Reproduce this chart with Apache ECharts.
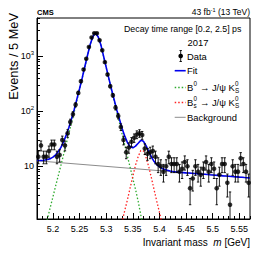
<!DOCTYPE html>
<html><head><meta charset="utf-8">
<script src="https://cdn.jsdelivr.net/npm/echarts@6/dist/echarts.min.js"></script>
<style>html,body{margin:0;padding:0;background:#fff}#c{width:266px;height:255px}</style>
</head><body><div id="c"></div>
<script>
// ---- data ----
const binCenters = [5.1725,5.1775,5.1825,5.1875,5.1925,5.1975,5.2025,5.2075,5.2125,5.2175,
 5.2225,5.2275,5.2325,5.2375,5.2425,5.2475,5.2525,5.2575,5.2625,5.2675,
 5.2725,5.2775,5.2825,5.2875,5.2925,5.2975,5.3025,5.3075,5.3125,5.3175,
 5.3225,5.3275,5.3325,5.3375,5.3425,5.3475,5.3525,5.3575,5.3625,5.3675,
 5.3725,5.3775,5.3825,5.3875,5.3925,5.3975,5.4025,5.4075,5.4125,5.4175,
 5.4225,5.4275,5.4325,5.4375,5.4425,5.4475,5.4525,5.4575,5.4625,5.4675,
 5.4725,5.4775,5.4825,5.4875,5.4925,5.4975,5.5025,5.5075,5.5125,5.5175,
 5.5225,5.5275,5.5325,5.5375,5.5425,5.5475,5.5525,5.5575,5.5625,5.5675];
const dataCounts = [15,24,15,15,19,25,25,15,16,30,
 24,40,64,89,132,217,353,578,905,1480,
 2200,2630,2630,1960,1290,787,468,286,196,117,
 82,52,30,18,22,28,33,38,40,37,
 21,17,18,19,15,11,10,8,10,15,
 11,11,11,8,9,12,10,4,6,10,
 8,7,9,12,8,11,9,4,7,11,
 11,5,2,10,8,8,14,11,8,5];
const fitMass = [5.17,5.175,5.18,5.185,5.19,5.195,5.2,5.205,5.21,5.215,
 5.22,5.225,5.23,5.235,5.24,5.245,5.25,5.255,5.26,5.265,
 5.27,5.275,5.28,5.285,5.29,5.295,5.3,5.305,5.31,5.315,
 5.32,5.325,5.33,5.335,5.34,5.345,5.35,5.355,5.36,5.365,
 5.37,5.375,5.38,5.385,5.39,5.395,5.4,5.405,5.41,5.415,
 5.42,5.425,5.43,5.435,5.44,5.445,5.45,5.455,5.46,5.465,
 5.47,5.475,5.48,5.485,5.49,5.495,5.5,5.505,5.51,5.515,
 5.52,5.525,5.53,5.535,5.54,5.545,5.55,5.555,5.56,5.565,5.57];
const fitTotal = [12.8,12.8,12.8,13.0,13.3,13.8,14.7,16.2,18.5,22.1,
 28.0,37.4,51.3,74.2,109,169,261,411,661,1061,
 1660,2310,2690,2260,1610,1010,630,395,250,162,
 105,71.1,48.5,35.0,26.8,22.8,21.7,23.3,26.3,29.7,
 28.5,23.5,18.6,14.7,12.2,10.7,9.8,9.15,8.74,8.46,
 8.24,8.06,7.92,7.84,7.76,7.69,7.61,7.55,7.48,7.41,
 7.35,7.28,7.21,7.15,7.09,7.02,6.96,6.90,6.84,6.78,
 6.71,6.66,6.60,6.54,6.48,6.42,6.36,6.31,6.25,6.20,6.14];
const b0Mass = fitMass.slice(0, 43);
const b0Values = [0.19,0.3,0.47,0.74,1.15,1.8,2.8,4.4,6.8,10.5,
 16.5,26,40,63,98,158,250,400,650,1050,
 1650,2300,2680,2250,1600,1000,620,385,240,152,
 95,61,38,24,15,9.5,6,3.8,2.3,1.3,0.75,0.45,0.27];
const bsMass = fitMass.slice(30, 50);
const bsValues = [0.4,0.62,1.0,1.6,2.5,4.1,6.6,10.5,15,19.5,
 19,14.3,9.7,6.1,3.7,2.3,1.45,0.9,0.56,0.35];
const bkgMass = [5.17, 5.57];
const bkgValues = [12.6, 6.14];
const xMajorTicks = [5.2,5.25,5.3,5.35,5.4,5.45,5.5,5.55];
const xMinorTicks = [5.17,5.18,5.19,5.2,5.21,5.22,5.23,5.24,5.25,5.26,5.27,5.28,5.29,5.3,5.31,5.32,5.33,5.34,5.35,
 5.36,5.37,5.38,5.39,5.4,5.41,5.42,5.43,5.44,5.45,5.46,5.47,5.48,5.49,5.5,5.51,5.52,5.53,5.54,5.55,5.56,5.57];
const yMajorTicks = [10,100,1000];
const yMinorTicks = [2,3,4,5,6,7,8,9,20,30,40,50,60,70,80,90,200,300,400,500,600,700,800,900,2000,3000,4000,5000];

// ---- styles ----
const FONT = 'Liberation Sans, Arial, Helvetica, sans-serif';
const C_FIT = '#0000ee', C_B0 = '#2eaa2e', C_BS = '#ff2020', C_BKG = '#8c8c8c';
const DASH = [1.5, 2];

// ---- build ----
const pairs = (xs, ys) => xs.map((x, i) => [x, ys[i]]);
const dataPts = pairs(binCenters, dataCounts);
const errBars = binCenters.map((x, i) => [x, dataCounts[i] - Math.sqrt(dataCounts[i]), dataCounts[i] + Math.sqrt(dataCounts[i])]);

const mctx = document.createElement('canvas').getContext('2d');
const tw = (s, size) => { mctx.font = size + 'px "Liberation Sans"'; return mctx.measureText(s).width; };

// legend (drawn as graphic elements)
const LX = 187, MAIN = 9.4, SMALL = 6.3;
function txt(x, y, s, size, extra) {
  return {type: 'text', silent: true, style: Object.assign({x: x, y: y, text: s, fontSize: size, fontFamily: FONT, fill: '#000', align: 'left', verticalAlign: 'middle'}, extra || {})};
}
// pieces: [text, kind] kind: 'n' normal, 'ss' stacked sup/sub pair "sup|sub"
function richLabel(x, y, pieces) {
  const out = []; let cx = x;
  pieces.forEach(p => {
    if (p[1] === 'n') { out.push(txt(cx, y, p[0], MAIN)); cx += tw(p[0], MAIN); }
    else {
      const sup = p[0], sub = p[2];
      if (sup) out.push(txt(cx + 0.3, y - 3.6, sup, SMALL));
      if (sub) out.push(txt(cx + 0.3, y + 3.4, sub, SMALL));
      cx += Math.max(sup ? tw(sup, SMALL) : 0, sub ? tw(sub, SMALL) : 0) + 0.6;
    }
  });
  return out;
}
const legendRows = [
  {y: 56, kind: 'data', pieces: [['Data', 'n']]},
  {y: 70.7, kind: 'line', color: C_FIT, width: 1.6, dash: null, pieces: [['Fit', 'n']]},
  {y: 87.5, kind: 'line', color: C_B0, width: 1.3, dash: DASH, pieces: [['B', 'n'], ['0', 's', ''], [' \u2192 J/\u03c8 K', 'n'], ['0', 's', 'S']]},
  {y: 102.5, kind: 'line', color: C_BS, width: 1.3, dash: DASH, pieces: [['B', 'n'], ['0', 's', 's'], [' \u2192 J/\u03c8 K', 'n'], ['0', 's', 'S']]},
  {y: 117.3, kind: 'line', color: C_BKG, width: 1, dash: null, pieces: [['Background', 'n']]}
];
const legendGraphics = [];
legendRows.forEach(r => {
  if (r.kind === 'data') {
    const cx = 180.7;
    legendGraphics.push({type: 'line', silent: true, shape: {x1: cx, y1: r.y - 5.5, x2: cx, y2: r.y + 5.5}, style: {stroke: '#000', lineWidth: 0.9}});
    legendGraphics.push({type: 'line', silent: true, shape: {x1: cx - 1.2, y1: r.y - 5.5, x2: cx + 1.2, y2: r.y - 5.5}, style: {stroke: '#000', lineWidth: 0.9}});
    legendGraphics.push({type: 'line', silent: true, shape: {x1: cx - 1.2, y1: r.y + 5.5, x2: cx + 1.2, y2: r.y + 5.5}, style: {stroke: '#000', lineWidth: 0.9}});
    legendGraphics.push({type: 'circle', silent: true, shape: {cx: cx, cy: r.y, r: 2.3}, style: {fill: '#000'}});
  } else {
    legendGraphics.push({type: 'line', silent: true, shape: {x1: 174.7, y1: r.y, x2: 185.7, y2: r.y},
      style: {stroke: r.color, lineWidth: r.width, lineDash: r.dash || null}});
  }
  richLabel(LX, r.y, r.pieces).forEach(g => legendGraphics.push(g));
});

const chart = echarts.init(document.getElementById('c'), null, {renderer: 'svg', width: 266, height: 255});

const option = {
  animation: false,
  backgroundColor: '#fff',
  textStyle: {fontFamily: FONT},
  grid: {left: 37, right: 16, top: 18, bottom: 36, show: true, borderColor: '#000', borderWidth: 1,
         backgroundColor: 'transparent', containLabel: false, outerBoundsMode: 'none'},
  xAxis: [
    {type: 'value', min: 5.17, max: 5.57, position: 'bottom',
     axisLine: {show: true, onZero: false, lineStyle: {color: '#000', width: 1}},
     axisTick: {show: true, inside: true, length: 6, customValues: xMajorTicks, lineStyle: {color: '#000'}},
     axisLabel: {show: true, customValues: xMajorTicks, fontSize: 9, fontFamily: FONT, color: '#000', margin: 5},
     splitLine: {show: false}},
    {type: 'value', min: 5.17, max: 5.57, position: 'bottom',
     axisLine: {show: false, onZero: false},
     axisTick: {show: true, inside: true, length: 3, customValues: xMinorTicks, lineStyle: {color: '#000'}},
     axisLabel: {show: false}, splitLine: {show: false}}
  ],
  yAxis: [
    {type: 'log', logBase: 10, min: 1.1, max: 5000, position: 'left',
     axisLine: {show: true, onZero: false, lineStyle: {color: '#000', width: 1}},
     axisTick: {show: true, inside: true, length: 6, customValues: yMajorTicks, lineStyle: {color: '#000'}},
     axisLabel: {show: true, customValues: yMajorTicks, margin: 3, color: '#000',
       formatter: v => { const e = Math.round(Math.log10(v)); return e === 1 ? '{b|10}' : '{b|10}{s|' + e + '}'; },
       rich: {b: {fontSize: 9, fontFamily: FONT, color: '#000'},
              s: {fontSize: 6, fontFamily: FONT, color: '#000', padding: [0, 0, 6, 0]}}},
     splitLine: {show: false}},
    {type: 'log', logBase: 10, min: 1.1, max: 5000, position: 'left',
     axisLine: {show: false, onZero: false},
     axisTick: {show: true, inside: true, length: 3, customValues: yMinorTicks, lineStyle: {color: '#000'}},
     axisLabel: {show: false}, splitLine: {show: false}}
  ],
  graphic: [
    {type: 'text', silent: true, style: {x: 37, y: 12, text: 'CMS', fontSize: 7.5, fontWeight: 'bold', fontFamily: FONT, fill: '#000', align: 'left', verticalAlign: 'middle'}},
    {type: 'text', silent: true, style: {x: 250, y: 12, align: 'right', verticalAlign: 'middle',
      text: '{n|43 fb}{s|-1}{n| (13 TeV)}',
      rich: {n: {fontSize: 8.5, fontFamily: FONT, fill: '#000'}, s: {fontSize: 5.5, fontFamily: FONT, fill: '#000', padding: [0, 0, 5, 0]}}}},
    {type: 'text', silent: true, style: {x: 124, y: 28.5, text: 'Decay time range [0.2, 2.5] ps', fontSize: 8.8, fontFamily: FONT, fill: '#000', align: 'left', verticalAlign: 'middle'}},
    {type: 'text', silent: true, style: {x: 187.5, y: 42, text: '2017', fontSize: 9.4, fontFamily: FONT, fill: '#000', align: 'left', verticalAlign: 'middle'}},
    {type: 'text', silent: true, x: 13, y: 13, rotation: Math.PI / 2,
     style: {x: 0, y: 0, text: 'Events / 5 MeV', fontSize: 12.8, fontFamily: FONT, fill: '#000', align: 'right', verticalAlign: 'middle'}},
    {type: 'text', silent: true, style: {x: 250, y: 242.5, align: 'right', verticalAlign: 'middle',
      text: '{n|Invariant mass  }{i|m}{n| [GeV]}',
      rich: {n: {fontSize: 10, fontFamily: FONT, fill: '#000'}, i: {fontSize: 10, fontStyle: 'italic', fontFamily: FONT, fill: '#000'}}}}
  ].concat(legendGraphics),
  series: [
    {name: 'Background', type: 'line', xAxisIndex: 0, yAxisIndex: 0, data: pairs(bkgMass, bkgValues),
     showSymbol: false, symbol: 'none', color: C_BKG, lineStyle: {color: C_BKG, width: 1}, z: 2},
    {name: 'B0 \u2192 J/\u03c8 K0S', type: 'line', xAxisIndex: 0, yAxisIndex: 0, data: pairs(b0Mass, b0Values),
     showSymbol: false, symbol: 'none', color: C_B0, lineStyle: {color: C_B0, width: 1.3, type: DASH}, z: 3},
    {name: 'B0s \u2192 J/\u03c8 K0S', type: 'line', xAxisIndex: 0, yAxisIndex: 0, data: pairs(bsMass, bsValues),
     showSymbol: false, symbol: 'none', color: C_BS, lineStyle: {color: C_BS, width: 1.3, type: DASH}, z: 3},
    {name: 'Fit', type: 'line', xAxisIndex: 0, yAxisIndex: 0, data: pairs(fitMass, fitTotal),
     showSymbol: false, symbol: 'none', color: C_FIT, lineStyle: {color: C_FIT, width: 1.6}, z: 4},
    {name: 'Data errors', type: 'custom', xAxisIndex: 0, yAxisIndex: 0, data: errBars, clip: true,
     dimensions: ['x', 'lo', 'hi'], encode: {x: 0, y: [1, 2]}, z: 5,
     renderItem: (params, api) => {
       const x = api.value(0);
       const p1 = api.coord([x, api.value(2)]);
       const p2 = api.coord([x, api.value(1)]);
       const st = {stroke: '#000', lineWidth: 0.9};
       return {type: 'group', children: [
         {type: 'line', shape: {x1: p1[0], y1: p1[1], x2: p2[0], y2: p2[1]}, style: st},
         {type: 'line', shape: {x1: p1[0] - 1.2, y1: p1[1], x2: p1[0] + 1.2, y2: p1[1]}, style: st},
         {type: 'line', shape: {x1: p2[0] - 1.2, y1: p2[1], x2: p2[0] + 1.2, y2: p2[1]}, style: st}
       ]};
     }},
    {name: 'Data', type: 'scatter', xAxisIndex: 0, yAxisIndex: 0, data: dataPts,
     symbol: 'circle', symbolSize: 4.6, color: '#000', itemStyle: {color: '#000'}, z: 6}
  ]
};
chart.setOption(option);
</script>
</body></html>
